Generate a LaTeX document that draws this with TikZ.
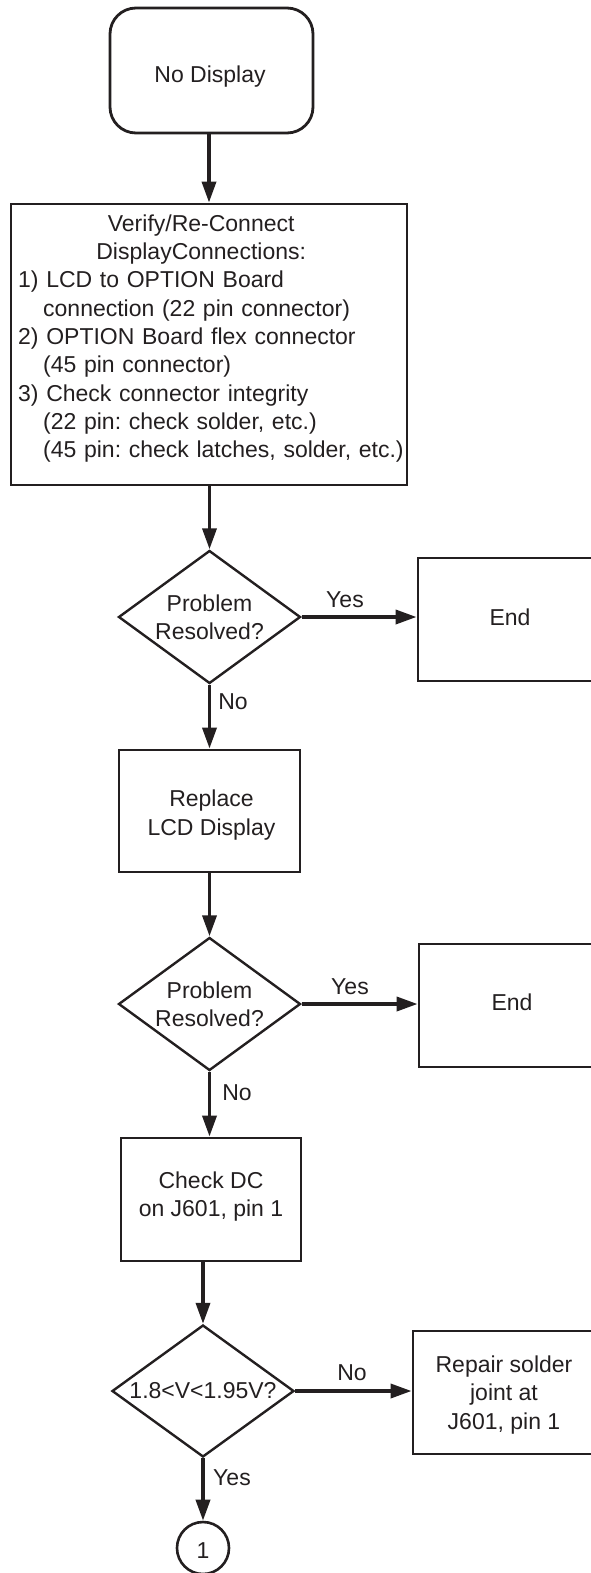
\documentclass[tikz,border=0pt]{standalone}
\usepackage{fontspec}
\setmainfont{Liberation Sans}
\usetikzlibrary{arrows.meta,shapes.geometric}
\definecolor{ink}{RGB}{35,31,32}
\begin{document}
\begin{tikzpicture}[x=1pt,y=-1pt,
  every node/.style={font=\fontsize{23}{28.3}\selectfont\frenchspacing, text=ink},
  box/.style={draw=ink, line width=2.8pt, rectangle, inner sep=0pt},
  startbox/.style={box, rounded corners=26pt},
  decision/.style={draw=ink, line width=2.4pt, diamond, inner sep=0pt, aspect=1.38,
                   minimum width=182pt, minimum height=133pt, align=center},
  connector/.style={draw=ink, line width=2.6pt, circle, inner sep=0pt, minimum size=52pt},
  txt/.style={inner sep=0pt, align=center},
  lbl/.style={inner sep=0pt},
  flow/.style={draw=ink, line width=3.6pt, -{Triangle[length=21pt,width=14pt]}}
]
\useasboundingbox (0,0) rectangle (590,1573);

% start terminal
\node[startbox, minimum width=203pt, minimum height=125pt] (start) at (211.5,70.5) {};
\node[txt] (starttext) at (210,77) {No Display};

% reconnect instructions
\node[box, minimum width=396pt, minimum height=281pt] (verify) at (209,344.5) {};
\node[lbl, text width=366pt, anchor=north west] (verifytext) at (18,214.5) {%
  \parindent=0pt
  {\centering\mbox{Verify/Re-Connect}\\
   \mbox{DisplayConnections:}\par}
  {\raggedright
  \mbox{1) LCD to OPTION Board}\\
  \mbox{\hspace*{25pt}connection (22 pin connector)}\\
  \mbox{2) OPTION Board flex connector}\\
  \mbox{\hspace*{25pt}(45 pin connector)}\\
  \mbox{3) Check connector integrity}\\
  \mbox{\hspace*{25pt}(22 pin: check solder, etc.)}\\
  \mbox{\hspace*{25pt}(45 pin: check latches, solder, etc.)}\par}};

% first check
\node[decision] (d1) at (209.5,617) {Problem\\Resolved?};
\node[box, minimum width=190pt, minimum height=123pt] (end1) at (513,619.5) {};
\node[txt] (end1text) at (510,617) {End};

% replace display
\node[box, minimum width=181pt, minimum height=122pt] (replace) at (209.5,811) {};
\node[txt] (replacetext) at (211.5,815) {Replace\\LCD Display};

% second check
\node[decision] (d2) at (209.5,1004) {Problem\\Resolved?};
\node[box, minimum width=190pt, minimum height=123pt] (end2) at (514,1005.5) {};
\node[txt] (end2text) at (512,1002) {End};

% DC measurement
\node[box, minimum width=180pt, minimum height=123pt] (dc) at (211,1199.5) {};
\node[txt] (dctext) at (211,1196.5) {Check DC\\on J601, pin 1};

% voltage window
\node[decision, minimum height=132pt] (d3) at (203,1391) {1.8<V<1.95V?};
\node[box, minimum width=190pt, minimum height=123pt] (repair) at (508,1392.5) {};
\node[txt] (repairtext) at (504,1395) {Repair solder\\joint at\\J601, pin 1};

% off-page connector
\node[connector] (c1) at (203,1548) {};
\node[txt] (c1text) at (203,1551) {1};

% flow lines
\draw[flow] (verify.north |- start.south) -- (verify.north);
\draw[flow] (d1.north |- verify.south) -- (d1.north);
\draw[flow] (d1.east) -- (d1.east -| end1.west);
\draw[flow] (d1.south) -- (d1.south |- replace.north);
\draw[flow] (d2.north |- replace.south) -- (d2.north);
\draw[flow] (d2.east) -- (d2.east -| end2.west);
\draw[flow] (d2.south) -- (d2.south |- dc.north);
\draw[flow] (d3.north |- dc.south) -- (d3.north);
\draw[flow] (d3.east) -- (d3.east -| repair.west);
\draw[flow] (d3.south) -- (d3.south |- c1.north);

% branch labels
\node[lbl] (yes1) at (345,600) {Yes};
\node[lbl] (no1) at (233,702) {No};
\node[lbl] (yes2) at (350,987) {Yes};
\node[lbl] (no2) at (237,1093) {No};
\node[lbl] (no3) at (352,1373) {No};
\node[lbl] (yes3) at (232,1478) {Yes};
\end{tikzpicture}
\end{document}
